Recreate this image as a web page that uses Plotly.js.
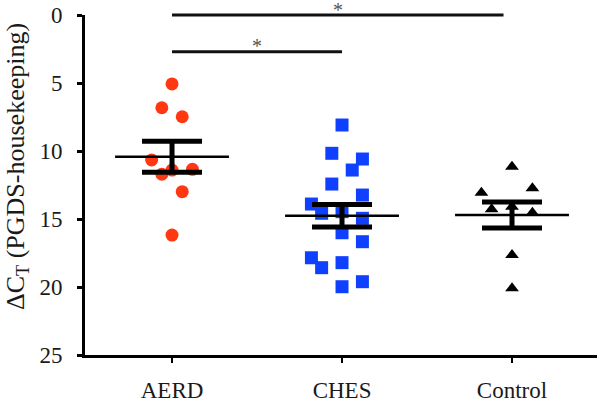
<!DOCTYPE html>
<html><head><meta charset="utf-8">
<script src="https://cdn.plot.ly/plotly-3.0.1.min.js"></script>
<style>html,body{margin:0;padding:0;background:#fff}#chart{width:600px;height:402px}</style>
</head><body><div id="chart"></div>
<script>
const categories = ['AERD', 'CHES', 'Control'];
const aerdValues = [5.07, 6.82, 7.48, 10.66, 11.71, 11.40, 11.35, 12.99, 16.18];
const aerdJitter = [0, -0.06, 0.06, -0.12, -0.06, 0, 0.12, 0.06, 0];
const chesValues = [8.09, 10.17, 10.59, 11.40, 12.43, 13.24, 13.90, 14.58, 14.46, 14.95, 16.01, 16.67, 17.85, 18.58, 18.21, 19.98, 19.61];
const chesJitter = [0, -0.06, 0.12, 0.06, -0.06, 0.12, -0.18, -0.12, 0, 0.12, 0, 0.12, -0.18, -0.12, 0, 0, 0.12];
const controlValues = [11.15, 13.07, 12.74, 14.29, 14.10, 14.54, 17.65, 20.10];
const controlJitter = [0, -0.18, 0.12, -0.12, 0, 0.12, 0, 0];
const groupMeans = [10.42, 14.76, 14.71];
const groupSEM = [1.14, 0.83, 0.96];
const yTickVals = [0, 5, 10, 15, 20, 25];
const sigFrom = [0, 0];
const sigTo = [1, 1.95];
const sigLabels = ['*', '*'];
const yTitle = 'ΔC<sub>T</sub> (PGDS-housekeeping)';

const FONT = '"Liberation Serif", "Times New Roman", Times, serif';
const groups = [
  {vals: aerdValues, jit: aerdJitter, color: '#ff3812', symbol: 'circle', size: 13},
  {vals: chesValues, jit: chesJitter, color: '#1040ff', symbol: 'square', size: 13},
  {vals: controlValues, jit: controlJitter, color: '#000000', symbol: 'triangle-up', size: 12}
];
const traces = [];
groups.forEach((g, i) => {
  traces.push({
    type: 'scatter', mode: 'markers',
    x: g.jit.map(j => i + j), y: g.vals,
    marker: {color: g.color, symbol: g.symbol, size: g.size, line: {width: 0}},
    hoverinfo: 'y', showlegend: false, cliponaxis: false
  });
});
const MEAN_HALF = 0.335;
groupMeans.forEach((m, i) => {
  traces.push({
    type: 'scatter', mode: 'lines',
    x: [i - MEAN_HALF, i + MEAN_HALF], y: [m, m],
    line: {color: '#000', width: 2.5}, hoverinfo: 'skip', showlegend: false
  });
});
traces.push({
  type: 'scatter', mode: 'markers',
  x: categories.map((c, i) => i), y: groupMeans,
  marker: {size: 1, opacity: 0},
  error_y: {type: 'data', array: groupSEM, visible: true, color: '#000', thickness: 5, width: 30},
  hoverinfo: 'skip', showlegend: false
});

const plotTop = 15, plotH = 340, plotL = 85, plotW = 512;
const sigLineY = [1 - (51.7 - plotTop) / plotH, 1.0];
const sigStarY = [1 - (46 - plotTop) / plotH, 1 + (plotTop - 10) / plotH];
const shapes = [], annotations = [];
sigFrom.forEach((f, k) => {
  shapes.push({type: 'line', xref: 'x', yref: 'paper', x0: f, x1: sigTo[k], y0: sigLineY[k], y1: sigLineY[k],
    line: {color: '#111', width: 3}});
  annotations.push({xref: 'x', yref: 'paper', x: (f + sigTo[k]) / 2, y: sigStarY[k], yanchor: 'middle', xanchor: 'center',
    text: sigLabels[k], showarrow: false, font: {family: FONT, size: 20, color: '#555'}});
});
annotations.push({xref: 'paper', yref: 'paper', x: (17 - plotL) / plotW, y: 1 - (167 - plotTop) / plotH,
  xanchor: 'center', yanchor: 'middle', textangle: -90, showarrow: false, text: yTitle,
  font: {family: FONT, size: 26, color: '#1a1a1a'}});

const layout = {
  width: 600, height: 402,
  margin: {l: plotL, r: 3, t: plotTop, b: 47},
  paper_bgcolor: '#fff', plot_bgcolor: '#fff',
  showlegend: false,
  xaxis: {
    range: [-0.512, 2.5], tickvals: [0, 1, 2], ticktext: categories,
    showline: true, linewidth: 3, linecolor: '#000', showgrid: false, zeroline: false,
    ticks: 'outside', ticklen: 5, tickwidth: 2.5, tickcolor: '#000',
    tickfont: {family: FONT, size: 23, color: '#1a1a1a'}, ticklabelstandoff: 7
  },
  yaxis: {
    range: [25, 0], tickvals: yTickVals,
    showline: true, linewidth: 3, linecolor: '#000', showgrid: false, zeroline: false,
    ticks: 'outside', ticklen: 5, tickwidth: 3, tickcolor: '#000',
    tickfont: {family: FONT, size: 23, color: '#1a1a1a'}, ticklabelstandoff: 10
  },
  shapes: shapes, annotations: annotations
};
Plotly.newPlot('chart', traces, layout, {displayModeBar: false, staticPlot: true});
</script></body></html>
